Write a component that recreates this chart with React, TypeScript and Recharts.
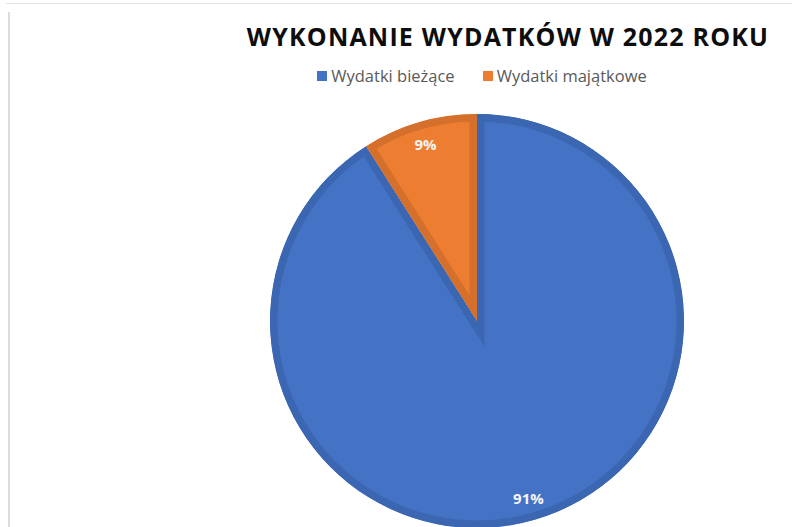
import React from "react";
import { PieChart, Pie, Cell, Legend, Sector } from "recharts";

const categories = ["Wydatki bieżące", "Wydatki majątkowe"];
const shares = [91, 9];
const labels = ["91%", "9%"];
const fills = ["#4472c4", "#ed7d31"];
const borders = ["#3b66b2", "#d4702c"];
const title = "WYKONANIE WYDATKÓW W 2022 ROKU";

const data = categories.map((name, i) => ({ name, value: shares[i], label: labels[i] }));

const FONT = "'Open Sans', 'DejaVu Sans', sans-serif";

const InsetSector = (props: any) => {
  const { cx, cy, innerRadius, outerRadius, startAngle, endAngle, fill, stroke } = props;
  const id = `clip-${Math.round(startAngle * 100)}-${Math.round(endAngle * 100)}`;
  const geo = { cx, cy, innerRadius, outerRadius, startAngle, endAngle };
  return (
    <g>
      <defs>
        <clipPath id={id}>
          <Sector {...geo} />
        </clipPath>
      </defs>
      <Sector {...geo} fill={fill} stroke={stroke} strokeWidth={15} clipPath={`url(#${id})`} />
    </g>
  );
};

const RADIAN = Math.PI / 180;
const renderLabel = (props: any) => {
  const { cx, cy, midAngle, outerRadius, index } = props;
  const r = outerRadius * 0.89;
  const x = cx + r * Math.cos(-midAngle * RADIAN);
  const y = cy + r * Math.sin(-midAngle * RADIAN);
  return (
    <text
      x={x}
      y={y}
      fill="#f4f4f4"
      textAnchor="middle"
      dominantBaseline="central"
      fontFamily={FONT}
      fontWeight={700}
      fontSize={15}
    >
      {data[index].label}
    </text>
  );
};

const LegendContent = (props: any) => {
  const { payload } = props;
  return (
    <div style={{ display: "flex", justifyContent: "center", alignItems: "center", fontFamily: FONT, height: 20 }}>
      {(payload || []).map((entry: any, i: number) => (
        <div key={i} style={{ display: "flex", alignItems: "center", marginRight: i === 0 ? 28 : 0 }}>
          <div style={{ width: 10, height: 10, background: fills[i], marginRight: 4 }} />
          <span style={{ fontSize: 16.5, lineHeight: "20px", color: "#595959" }}>{entry.value}</span>
        </div>
      ))}
    </div>
  );
};

export default function App() {
  return (
    <div style={{ position: "absolute", left: 0, top: 0, width: 792, height: 527, background: "#fff", overflow: "hidden" }}>
      <div style={{ position: "absolute", left: 6, top: 3, width: 786, height: 1, background: "#e3e3e3" }} />
      <div style={{ position: "absolute", left: 8, top: 12, width: 2, height: 515, background: "#dcdcdc" }} />
      <div
        style={{
          position: "absolute",
          left: 0,
          top: 18,
          width: 1016,
          textAlign: "center",
          fontFamily: FONT,
          fontWeight: 700,
          fontSize: 25,
          letterSpacing: 1.2,
          color: "#0d0d0d",
          lineHeight: "36px",
        }}
      >
        {title}
      </div>
      <div style={{ position: "absolute", left: 0, top: 0 }}>
        <PieChart width={792} height={527} margin={{ top: 0, right: 0, bottom: 0, left: 0 }}>
          <Legend
            content={<LegendContent />}
            verticalAlign="top"
            wrapperStyle={{ position: "absolute", top: 66, left: 0, width: 964, height: 20 }}
          />
          <Pie
            data={data}
            dataKey="value"
            nameKey="name"
            cx={477}
            cy={301}
            innerRadius={0}
            outerRadius={207}
            startAngle={90}
            endAngle={-270}
            isAnimationActive={false}
            label={renderLabel}
            labelLine={false}
            shape={InsetSector}
          >
            {data.map((_, i) => (
              <Cell key={i} fill={fills[i]} stroke={borders[i]} />
            ))}
          </Pie>
        </PieChart>
      </div>
    </div>
  );
}
